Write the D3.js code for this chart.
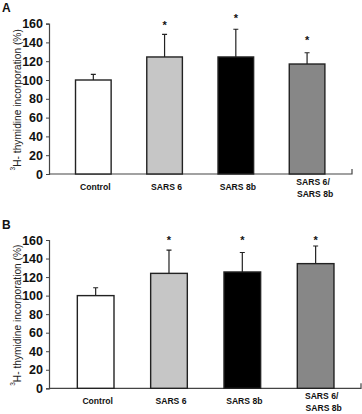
<!DOCTYPE html>
<html>
<head>
<meta charset="utf-8">
<script src="https://cdn.jsdelivr.net/npm/d3@7"></script>
<style>
  body { margin: 0; background: #fff; }
  svg { display: block; font-family: "Liberation Sans", Arial, sans-serif; }
  .tick text { font-size: 12.5px; font-weight: bold; fill: #111; }
  .cat { font-size: 8.6px; font-weight: bold; fill: #111; }
  .ylab { font-size: 10.2px; fill: #222; }
  .panel { font-size: 12px; font-weight: bold; fill: #111; }
</style>
</head>
<body>
<svg id="chart" width="362" height="414"></svg>
<script>
const categories = [["Control"], ["SARS 6"], ["SARS 8b"], ["SARS 6/", "SARS 8b"]];
const fills = ["#ffffff", "#c6c6c6", "#000000", "#878787"];
const yTicks = [0, 20, 40, 60, 80, 100, 120, 140, 160];

// panel A
const meanA = [100, 124.5, 124.5, 117];
const errA = [6, 24, 29.5, 12];
const starA = [null, 163, 170, 147.5];

// panel B
const meanB = [100, 124, 125.5, 134.5];
const errB = [8.5, 25, 21, 19];
const starB = [null, 165, 165, 165];

const svg = d3.select("#chart");

function drawPanel(opt) {
    const { label, labelY, mean, err, star, y0, y1, bandRange, axisEnd } = opt;
    const g = svg.append("g");
    const idx = d3.range(categories.length);

    const x = d3.scaleBand().domain(idx).range(bandRange).paddingInner(0.5).paddingOuter(0.25);
    const y = d3.scaleLinear().domain([0, 160]).range([y0, y1]);

    // y axis
    const yAxis = g.append("g")
        .attr("transform", "translate(49,0)")
        .call(d3.axisLeft(y).tickValues(yTicks).tickSize(3).tickPadding(3));
    yAxis.select(".domain").attr("stroke", "#444").attr("stroke-width", 1.2);
    yAxis.selectAll(".tick line").attr("stroke", "#444");

    // x axis line with small end tick
    g.append("path")
        .attr("d", `M49,${y0}H${axisEnd}V${y0 - 5}`)
        .attr("fill", "none")
        .attr("stroke", "#444")
        .attr("stroke-width", 1.2);

    // error bars (upper only)
    idx.forEach(i => {
        const cx = x(i) + x.bandwidth() / 2;
        g.append("path")
            .attr("d", `M${cx},${y(mean[i])}V${y(mean[i] + err[i])}M${cx - 2.5},${y(mean[i] + err[i])}H${cx + 2.5}`)
            .attr("stroke", "#222")
            .attr("stroke-width", 1.2)
            .attr("fill", "none");
    });

    // bars
    g.selectAll(".bar")
        .data(idx)
        .enter().append("rect")
        .attr("class", "bar")
        .attr("x", i => x(i))
        .attr("width", x.bandwidth())
        .attr("y", i => y(mean[i]))
        .attr("height", i => y0 - y(mean[i]))
        .attr("fill", i => fills[i])
        .attr("stroke", "#222")
        .attr("stroke-width", 1.4);

    // significance asterisks
    idx.filter(i => star[i] != null).forEach(i => {
        g.append("text")
            .attr("x", x(i) + x.bandwidth() / 2)
            .attr("y", y(star[i]))
            .attr("dy", "0.75em")
            .attr("text-anchor", "middle")
            .style("font-size", "11px")
            .style("font-weight", "bold")
            .attr("fill", "#111")
            .text("*");
    });

    // category labels
    idx.forEach(i => {
        const lines = categories[i];
        const cx = x(i) + x.bandwidth() / 2 + (lines.length > 1 ? 6 : 2);
        const t = g.append("text")
            .attr("class", "cat")
            .attr("text-anchor", "middle")
            .attr("x", cx)
            .attr("y", lines.length > 1 ? y0 + 11 : y0 + 16);
        lines.forEach((l, k) => {
            t.append("tspan")
                .attr("x", cx + (k > 0 ? 2 : 0))
                .attr("dy", k > 0 ? 11.5 : 0)
                .text(l);
        });
    });

    // y label
    const yl = g.append("text")
        .attr("class", "ylab")
        .attr("text-anchor", "middle")
        .attr("transform", `translate(19,${(y0 + y1) / 2 + 1}) rotate(-90)`);
    yl.append("tspan").attr("font-size", "6.5px").attr("dy", "-0.6em").text("3");
    yl.append("tspan").attr("dy", "0.6em").text("H- thymidine incorporation (%)");

    // panel letter
    g.append("text")
        .attr("class", "panel")
        .attr("x", 2)
        .attr("y", labelY)
        .text(label);
}

drawPanel({
    label: "A", labelY: 12,
    mean: meanA, err: errA, star: starA,
    y0: 174, y1: 23.6, bandRange: [57.7, 342.7], axisEnd: 352
});

drawPanel({
    label: "B", labelY: 229,
    mean: meanB, err: errB, star: starB,
    y0: 388.3, y1: 240, bandRange: [59, 352.3], axisEnd: 361
});
</script>
</body>
</html>
